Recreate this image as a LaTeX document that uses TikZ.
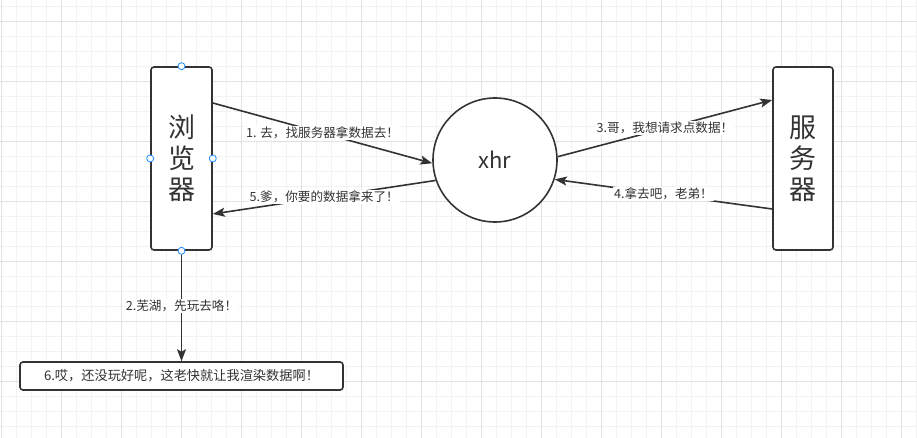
\documentclass[tikz,border=0pt]{standalone}
\usepackage{fontspec}
\setmainfont{Noto Sans CJK SC}
\usetikzlibrary{
    arrows.meta,
    calc
}
\definecolor{ink}{HTML}{333333}
\definecolor{gridlo}{HTML}{F2F2F2}
\definecolor{gridhi}{HTML}{E2E2E2}
\definecolor{handle}{HTML}{1A8CFF}
\tikzset{
  box/.style={
    draw=ink,
    line width=1.6pt,
    rounded corners=3pt,
    fill=white,
    inner sep=0pt,
    text=ink
  },
  arr/.style={
    draw=ink,
    line width=1.6pt,
    -{Stealth[length=12pt,width=9pt,inset=2.5pt]}
  },
  lbl/.style={
    fill=white,
    text=ink,
    inner sep=1pt,
    font=\fontsize{12.6}{15}\selectfont
  },
  grip/.style={
    draw=handle,
    fill=white,
    line width=0.8pt,
    circle,
    inner sep=0pt,
    minimum size=7pt
  }
}

\begin{document}
\begin{tikzpicture}[x=1pt, y=-1pt]
    \useasboundingbox (0,0) rectangle (917,438);
    \fill[white] (0,0) rectangle (917,438);

    % 网格
    \foreach \i in {0,...,61}
      \draw[gridlo, line width=0.8pt] ({1.7+15*\i},0) -- ({1.7+15*\i},438);
    \foreach \j in {0,...,29}
      \draw[gridlo, line width=0.8pt] (0,{6+15*\j}) -- (917,{6+15*\j});
    \foreach \i in {0,...,15}
      \draw[gridhi, line width=0.8pt] ({1.7+60*\i},0) -- ({1.7+60*\i},438);
    \foreach \j in {0,...,7}
      \draw[gridhi, line width=0.8pt] (0,{21+60*\j}) -- (917,{21+60*\j});

    % 节点
    \node[box, minimum width=61pt, minimum height=183pt, align=center,
          font=\fontsize{27}{31}\selectfont] (B) at (181.5,158.5) {浏\\览\\器};
    \node[box, minimum width=60pt, minimum height=183pt, align=center,
          font=\fontsize{27}{31}\selectfont] (S) at (803,158.5) {服\\务\\器};
    \node[draw=ink, line width=1.6pt, circle, fill=white, minimum size=124pt,
          text=ink, font=\fontsize{22}{26}\selectfont] (X) at (495,160) {xhr};
    \node[box, minimum width=323pt, minimum height=28pt,
          font=\fontsize{13.2}{15}\selectfont] (R) at (181.5,376)
          {6.哎，还没玩好呢，这老快就让我渲染数据啊！};

    % 选中手柄
    \node[grip] (h1) at (B.north) {};
    \node[grip] (h2) at (B.west) {};
    \node[grip] (h3) at (B.east) {};

    % 连线
    \draw[arr] ([yshift=55.5pt]B.east) -- (X.183)
        node[lbl, midway] {1. 去，找服务器拿数据去！};
    \draw[arr] (B.south) -- (R.north)
        node[lbl, midway] {2.芜湖，先玩去咯！};
    \draw[arr] (X.3) -- ([yshift=58.5pt]S.west)
        node[lbl, midway] {3.哥，我想请求点数据！};
    \draw[arr] ([yshift=-50.5pt]S.west) -- (X.342)
        node[lbl, midway] {4.拿去吧，老弟！};
    \draw[arr] (X.199) -- ([yshift=-55.5pt]B.east)
        node[lbl, midway] {5.爹，你要的数据拿来了！};

    \node[grip] (h4) at (B.south) {};
\end{tikzpicture}
\end{document}
